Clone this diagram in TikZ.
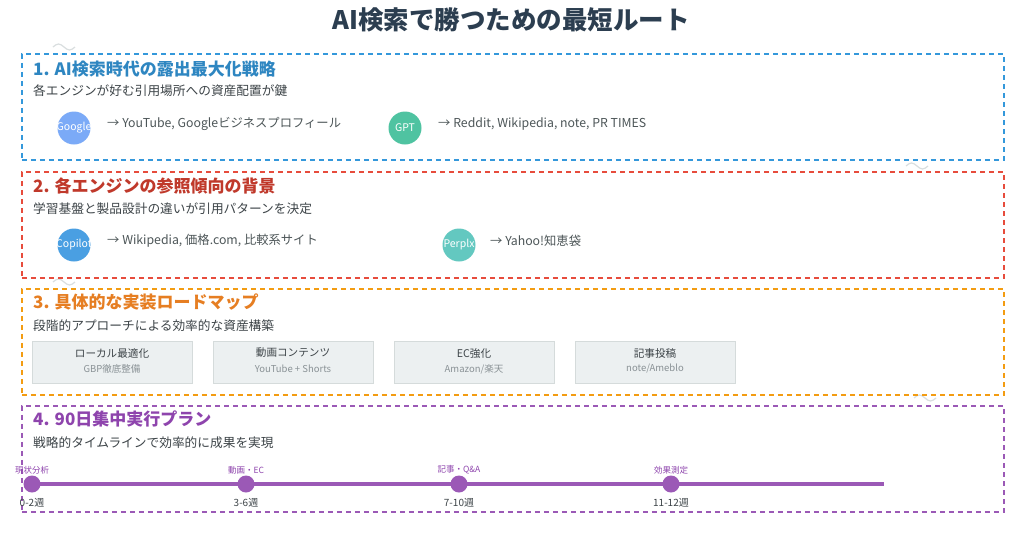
\documentclass[tikz,border=0pt]{standalone}
\usepackage{fontspec}
\setmainfont{Noto Sans CJK JP}
\definecolor{titlec}{HTML}{2C3E50}
\definecolor{txt}{HTML}{3D4448}
\definecolor{cit}{HTML}{4D5658}
\definecolor{blueB}{HTML}{3498DB}
\definecolor{blueH}{HTML}{2E86C1}
\definecolor{redB}{HTML}{E74C3C}
\definecolor{redH}{HTML}{C0392B}
\definecolor{oraB}{HTML}{F39C12}
\definecolor{oraH}{HTML}{E67E22}
\definecolor{purB}{HTML}{9B59B6}
\definecolor{purH}{HTML}{8E44AD}
\definecolor{cGoogle}{HTML}{7BAAF7}
\definecolor{cGPT}{HTML}{4FC3A1}
\definecolor{cCopilot}{HTML}{4A9FE2}
\definecolor{cPerplx}{HTML}{63C8C0}
\definecolor{boxfill}{HTML}{ECF0F1}
\definecolor{boxline}{HTML}{D5DBDB}
\definecolor{boxsub}{HTML}{8A9296}
\definecolor{squig}{HTML}{D9DEDF}
\begin{document}
\begin{tikzpicture}[x=1pt,y=-1pt,
  sec/.style={draw=#1, dash pattern=on 5pt off 4pt, line width=1.8pt, anchor=north west,
    minimum width=982pt, minimum height=106pt, inner sep=0},
  head/.style={anchor=west, inner sep=0, font=\fontsize{17}{20}\selectfont\bfseries, text=#1},
  sub/.style={anchor=west, inner sep=0, font=\fontsize{12.7}{15}\selectfont, text=txt},
  eng/.style={circle, fill=#1, minimum size=33pt, inner sep=0},
  engt/.style={inner sep=0, text=white, font=\fontsize{10.5}{12}\selectfont},
  cite/.style={anchor=west, inner sep=0, font=\fontsize{12.3}{14}\selectfont, text=cit},
  phase/.style={draw=boxline, fill=boxfill, line width=1.2pt, anchor=north west,
    minimum width=160pt, minimum height=42pt, inner sep=0},
  phaset/.style={inner sep=0, font=\fontsize{10.6}{12}\selectfont, text=txt},
  phases/.style={inner sep=0, font=\fontsize{9.5}{11}\selectfont, text=boxsub},
  tl/.style={draw=purB, line width=3.5pt},
  dot/.style={circle, fill=purB, minimum size=17pt, inner sep=0},
  tlup/.style={inner sep=0, font=\fontsize{8.5}{10}\selectfont, text=purH},
  tldown/.style={inner sep=0, font=\fontsize{10}{12}\selectfont, text=txt},
  sq/.style={draw=squig, line width=1.2pt}
]
\useasboundingbox (0,0) rectangle (1024,533);
\fill[white] (0,0) rectangle (1024,533);

% title
\node[inner sep=0, font=\fontsize{25.5}{30}\selectfont\bfseries, text=titlec] (title) at (511,20) {AI検索で勝つための最短ルート};

% decorative squiggles
\draw[sq] (53,47) sin (58.5,44) cos (64,47) sin (69.5,50) cos (75,47);
\draw[sq] (906,166) sin (911.5,163) cos (917,166) sin (922.5,169) cos (928,166);
\draw[sq] (53,282) sin (58.5,279) cos (64,282) sin (69.5,285) cos (75,282);
\draw[sq] (914,398) sin (919.5,395) cos (925,398) sin (930.5,401) cos (936,398);

% section 1
\node[sec=blueB] (s1) at (21,53) {};
\node[head=blueH] (h1) at (33,69) {1. AI検索時代の露出最大化戦略};
\node[sub] (u1) at (33,91) {各エンジンが好む引用場所への資産配置が鍵};
\node[eng=cGoogle] (google) at (74,128) {};
\node[engt] (googlet) at (google) {Google};
\node[cite] (googlec) at (107,124) {→ YouTube, Googleビジネスプロフィール};
\node[eng=cGPT] (gpt) at (405,128) {};
\node[engt] (gptt) at (gpt) {GPT};
\node[cite] (gptc) at (438,124) {→ Reddit, Wikipedia, note, PR TIMES};

% section 2
\node[sec=redB] (s2) at (21,171) {};
\node[head=redH] (h2) at (33,186) {2. 各エンジンの参照傾向の背景};
\node[sub] (u2) at (33,209) {学習基盤と製品設計の違いが引用パターンを決定};
\node[eng=cCopilot] (copilot) at (74,245) {};
\node[engt] (copilott) at (copilot) {Copilot};
\node[cite] (copilotc) at (107,241) {→ Wikipedia, 価格.com, 比較系サイト};
\node[eng=cPerplx] (perplx) at (459,245) {};
\node[engt] (perplxt) at (perplx) {Perplx};
\node[cite] (perplxc) at (490,241) {→ Yahoo!知恵袋};

% section 3
\node[sec=oraB] (s3) at (21,288) {};
\node[head=oraH] (h3) at (33,302) {3. 具体的な実装ロードマップ};
\node[sub] (u3) at (33,326) {段階的アプローチによる効率的な資産構築};
\node[phase] (p1) at (32,341) {};
\node[phaset] (p1t) at (112,353) {ローカル最適化};
\node[phases] (p1s) at (112,369) {GBP徹底整備};
\node[phase] (p2) at (213,341) {};
\node[phaset] (p2t) at (293,353) {動画コンテンツ};
\node[phases] (p2s) at (293,369) {YouTube + Shorts};
\node[phase] (p3) at (394,341) {};
\node[phaset] (p3t) at (474,353) {EC強化};
\node[phases] (p3s) at (474,369) {Amazon/楽天};
\node[phase] (p4) at (575,341) {};
\node[phaset] (p4t) at (655,353) {記事投稿};
\node[phases] (p4s) at (655,369) {note/Ameblo};

% section 4
\node[sec=purB] (s4) at (21,405) {};
\node[head=purH] (h4) at (33,419) {4. 90日集中実行プラン};
\node[sub] (u4) at (33,443) {戦略的タイムラインで効率的に成果を実現};
\coordinate (t0) at (32,484);
\coordinate (tend) at (884,484);
\draw[tl] (t0) -- (tend);
\node[dot] (d1) at (32,484) {};
\node[dot] (d2) at (246,484) {};
\node[dot] (d3) at (459,484) {};
\node[dot] (d4) at (671,484) {};
\node[tlup] (l1) at (32,470) {現状分析};
\node[tlup] (l2) at (246,470) {動画・EC};
\node[tlup] (l3) at (459,470) {記事・Q\&A};
\node[tlup] (l4) at (671,470) {効果測定};
\node[tldown] (w1) at (32,503) {0-2週};
\node[tldown] (w2) at (246,503) {3-6週};
\node[tldown] (w3) at (459,503) {7-10週};
\node[tldown] (w4) at (671,503) {11-12週};
\end{tikzpicture}
\end{document}
